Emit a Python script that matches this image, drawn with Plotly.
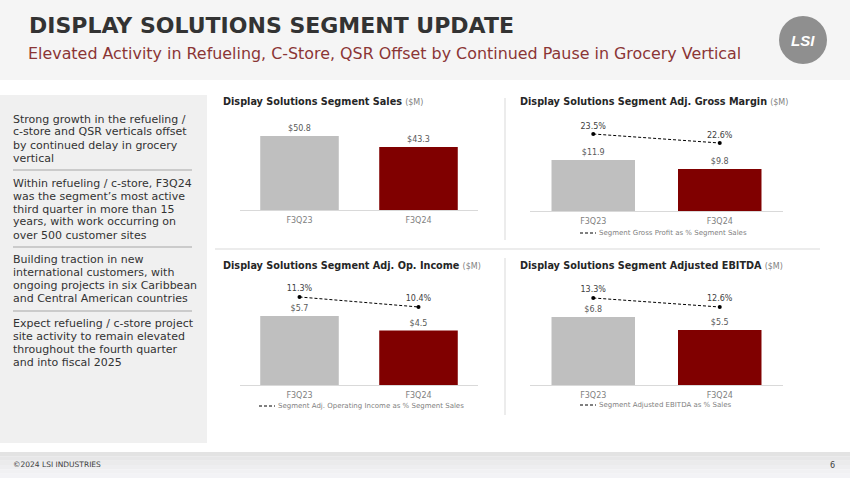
import plotly.graph_objects as go

W, H = 850, 478

# ---------------- data ----------------
periods = ["F3Q23", "F3Q24"]
sales = [50.8, 43.3]
gross_margin = [11.9, 9.8]
gross_margin_pct = [23.5, 22.6]
op_income = [5.7, 4.5]
op_income_pct = [11.3, 10.4]
ebitda = [6.8, 5.5]
ebitda_pct = [13.3, 12.6]
bar_colors = ["#bfbfbf", "#800000"]

title = "DISPLAY SOLUTIONS SEGMENT UPDATE"
subtitle = "Elevated Activity in Refueling, C-Store, QSR Offset by Continued Pause in Grocery Vertical"
panel_titles = [
    "Display Solutions Segment Sales",
    "Display Solutions Segment Adj. Gross Margin",
    "Display Solutions Segment Adj. Op. Income",
    "Display Solutions Segment Adjusted EBITDA",
]
legend_texts = [
    None,
    "Segment Gross Profit as % Segment Sales",
    "Segment Adj. Operating Income as % Segment Sales",
    "Segment Adjusted EBITDA as % Sales",
]
bullets = [
    ["Strong growth in the refueling /", "c-store and QSR verticals offset",
     "by continued delay in grocery", "vertical"],
    ["Within refueling / c-store, F3Q24", "was the segment\u2019s most active",
     "third quarter in more than 15", "years, with work occurring on",
     "over 500 customer sites"],
    ["Building traction in new", "international customers, with",
     "ongoing projects in six Caribbean", "and Central American countries"],
    ["Expect refueling / c-store project", "site activity to remain elevated",
     "throughout the fourth quarter", "and into fiscal 2025"],
]

FONT = "DejaVu Sans"


def px(x):
    return x / W


def py(y):
    return 1 - y / H


fig = go.Figure()

# panel geometry in pixels: x-left, x-right, y-bottom, y-top, bar range max, pct range
panels = [
    dict(x0=240, x1=478, yb=210, yt=115, ymax=65.2, pct=None, bars=sales, line=None),
    dict(x0=530, x1=783, yb=211, yt=115, ymax=22.4, pct=[15.8, 25.4], bars=gross_margin, line=gross_margin_pct),
    dict(x0=240, x1=478, yb=385, yt=280, ymax=8.68, pct=[3.37, 12.83], bars=op_income, line=op_income_pct),
    dict(x0=530, x1=783, yb=385, yt=280, ymax=10.5, pct=[6.53, 14.7], bars=ebitda, line=ebitda_pct),
]

layout_axes = {}
extra = 5
for i, p in enumerate(panels):
    n = i + 1
    xs = "" if n == 1 else str(n)
    xa = "x" + xs
    ya = "y" + xs
    fig.add_trace(go.Bar(
        x=periods, y=p["bars"], xaxis=xa, yaxis=ya,
        marker=dict(color=bar_colors, line=dict(width=0)),
        width=0.66,
        texttemplate="$%{y:.1f}", textposition="outside",
        textfont=dict(size=8, color="#595959", family=FONT),
        cliponaxis=False, showlegend=False, hoverinfo="skip",
    ))
    layout_axes["xaxis" + xs] = dict(
        domain=[px(p["x0"]), px(p["x1"])], anchor=ya, type="category",
        range=[-0.5, 1.5], showline=True, linecolor="#d9d9d9", linewidth=1,
        showgrid=False, zeroline=False, ticks="", ticklabelstandoff=2,
        tickfont=dict(size=8, color="#7f7f7f", family=FONT), fixedrange=True,
    )
    layout_axes["yaxis" + xs] = dict(
        domain=[py(p["yb"]), py(p["yt"])], anchor=xa, range=[0, p["ymax"]],
        visible=False, fixedrange=True,
    )
    if p["line"] is not None:
        ys = str(extra)
        fig.add_trace(go.Scatter(
            x=periods, y=p["line"], xaxis=xa, yaxis="y" + ys,
            mode="lines+markers+text",
            line=dict(color="#000000", width=1, dash="3px,2px"),
            marker=dict(size=4, color="#000000"),
            text=[f"{v:.1f}%" for v in p["line"]], textposition="top center",
            textfont=dict(size=8, color="#404040", family=FONT),
            cliponaxis=False, showlegend=False, hoverinfo="skip",
        ))
        layout_axes["yaxis" + ys] = dict(
            domain=[py(p["yb"]), py(p["yt"])], anchor=xa, overlaying=ya,
            range=p["pct"], visible=False, fixedrange=True,
        )
        extra += 1

shapes = []
annotations = []

# header background
shapes.append(dict(type="rect", xref="paper", yref="paper", x0=0, x1=1, y0=py(80), y1=1,
                   fillcolor="#f5f5f5", line=dict(width=0), layer="below"))
# left panel
shapes.append(dict(type="rect", xref="paper", yref="paper", x0=0, x1=px(207), y0=py(443), y1=py(95),
                   fillcolor="#f0f0f0", line=dict(width=0), layer="below"))
# footer gradient
foot_cols = ["#e3e3e3", "#e7e7e8", "#ebebec", "#eeeef0", "#f1f1f3", "#f3f3f6"]
fy0 = 452
step = (H - fy0) / len(foot_cols)
for k, c in enumerate(foot_cols):
    shapes.append(dict(type="rect", xref="paper", yref="paper", x0=0, x1=1,
                       y0=py(fy0 + (k + 1) * step), y1=py(fy0 + k * step),
                       fillcolor=c, line=dict(width=0), layer="below"))
# separators in left panel
for sy in [170, 247, 311]:
    shapes.append(dict(type="line", xref="paper", yref="paper", x0=px(13), x1=px(192), y0=py(sy), y1=py(sy),
                       line=dict(color="#a6a6a6", width=1)))
# chart separators
shapes.append(dict(type="line", xref="paper", yref="paper", x0=px(215), x1=px(820), y0=py(249), y1=py(249),
                   line=dict(color="#d9d9d9", width=1)))
shapes.append(dict(type="line", xref="paper", yref="paper", x0=px(505), x1=px(505), y0=py(98), y1=py(240),
                   line=dict(color="#d9d9d9", width=1)))
shapes.append(dict(type="line", xref="paper", yref="paper", x0=px(505), x1=px(505), y0=py(258), y1=py(415),
                   line=dict(color="#d9d9d9", width=1)))
# logo circle
shapes.append(dict(type="circle", xref="paper", yref="paper", x0=px(779), x1=px(827), y0=py(64), y1=py(16),
                   fillcolor="#8f8f8f", line=dict(width=0)))

# title + subtitle
annotations.append(dict(text=f"<b>{title}</b>", x=px(27), y=py(25), xref="paper", yref="paper",
                        xanchor="left", yanchor="middle", showarrow=False,
                        font=dict(size=22, color="#333333", family=FONT)))
annotations.append(dict(text=subtitle, x=px(26), y=py(53), xref="paper", yref="paper",
                        xanchor="left", yanchor="middle", showarrow=False,
                        font=dict(size=15.9, color="#8b3535", family=FONT)))
# logo text
annotations.append(dict(text="<b><i>LSI</i></b>", x=px(803), y=py(40), xref="paper", yref="paper",
                        xanchor="center", yanchor="middle", showarrow=False,
                        font=dict(size=15, color="#ffffff", family="Liberation Sans")))

# left bullets
bullet_starts = [119, 183, 259, 323]
for start, lines in zip(bullet_starts, bullets):
    for j, ln in enumerate(lines):
        annotations.append(dict(text=ln, x=px(11), y=py(start + j * 13), xref="paper", yref="paper",
                                xanchor="left", yanchor="middle", showarrow=False,
                                font=dict(size=11, color="#333333", family=FONT)))

# panel titles
title_pos = [(221, 102), (518, 102), (221, 265), (518, 265)]
for (tx, ty), t in zip(title_pos, panel_titles):
    annotations.append(dict(text=f"<b>{t}</b> <span style='font-size:8px;color:#7f7f7f'>($M)</span>",
                            x=px(tx), y=py(ty), xref="paper", yref="paper",
                            xanchor="left", yanchor="middle", showarrow=False,
                            font=dict(size=9.7, color="#262626", family=FONT)))

# custom legends
legend_pos = [None, (580, 233), (259, 406), (580, 405)]
for pos, t in zip(legend_pos, legend_texts):
    if pos is None:
        continue
    lx, ly = pos
    shapes.append(dict(type="line", xref="paper", yref="paper", x0=px(lx), x1=px(lx + 16), y0=py(ly), y1=py(ly),
                       line=dict(color="#000000", width=1, dash="3px,2px")))
    annotations.append(dict(text=t, x=px(lx + 17), y=py(ly), xref="paper", yref="paper",
                            xanchor="left", yanchor="middle", showarrow=False,
                            font=dict(size=7, color="#7f7f7f", family=FONT)))

# footer
annotations.append(dict(text="\u00a92024 LSI INDUSTRIES", x=px(11), y=py(464), xref="paper", yref="paper",
                        xanchor="left", yanchor="middle", showarrow=False,
                        font=dict(size=7.5, color="#404040", family=FONT)))
annotations.append(dict(text="6", x=px(837), y=py(465), xref="paper", yref="paper",
                        xanchor="right", yanchor="middle", showarrow=False,
                        font=dict(size=8, color="#404040", family=FONT)))

fig.update_layout(
    width=W, height=H, margin=dict(l=0, r=0, t=0, b=0),
    paper_bgcolor="#ffffff", plot_bgcolor="rgba(0,0,0,0)",
    shapes=shapes, annotations=annotations, showlegend=False,
    font=dict(family=FONT), bargap=0.34,
    **layout_axes,
)

fig.write_html("out.html", config={"displayModeBar": False},
               post_script="document.body.style.margin='0';document.body.style.overflow='hidden';")
